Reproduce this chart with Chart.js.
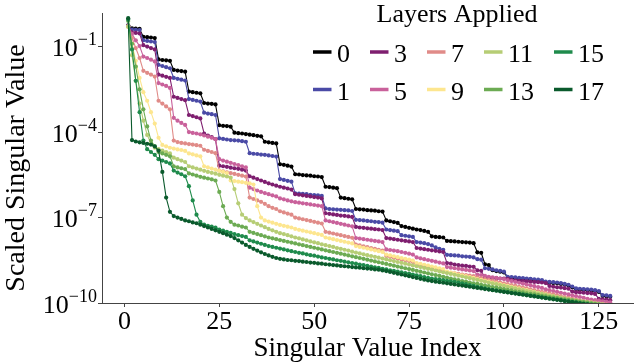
<!DOCTYPE html>
<html>
<head>
<meta charset="utf-8">
<script src="https://cdn.jsdelivr.net/npm/chart.js@4"></script>
<style>
  html, body { margin: 0; padding: 0; background: #fff; }
  #wrap { width: 637px; height: 362px; }
</style>
</head>
<body>
<div id="wrap"><canvas id="c" width="637" height="362"></canvas></div>
<script>
// Scaled singular values per layer count, stored as log10 exponents
// (value = 10^e), index 1..128.
const layers = [0, 1, 3, 5, 7, 9, 11, 13, 15, 17];
const layerColors = ['#000000', '#4a4aa6', '#7e1e6f', '#c9619b', '#e08b88',
                     '#fde68f', '#b6cd75', '#6cab53', '#1f8b4c', '#0a5a2c'];

const logSv0 = [
  -0.25, -0.36, -0.37, -0.38, -0.66, -0.67, -0.68, -0.70,
  -1.45, -1.47, -1.48, -1.50, -1.82, -1.84, -1.86, -1.88,
  -2.58, -2.60, -2.62, -2.64, -2.98, -3.00, -3.01, -3.03,
  -3.76, -3.78, -3.79, -3.81, -4.02, -4.04, -4.05, -4.07,
  -4.09, -4.11, -4.13, -4.15, -4.34, -4.36, -4.38, -4.40,
  -5.13, -5.15, -5.18, -5.21, -5.48, -5.49, -5.51, -5.52,
  -5.53, -5.55, -5.56, -5.58, -5.92, -5.93, -5.95, -5.97,
  -6.30, -6.32, -6.34, -6.36, -6.70, -6.71, -6.72, -6.74,
  -6.75, -6.76, -6.78, -6.79, -7.10, -7.13, -7.16, -7.19,
  -7.30, -7.33, -7.36, -7.39, -7.42, -7.44, -7.47, -7.50,
  -7.66, -7.68, -7.69, -7.70, -7.82, -7.83, -7.84, -7.85,
  -7.86, -7.87, -7.88, -7.90, -8.22, -8.24, -8.64, -8.67,
  -8.85, -8.88, -8.90, -8.93, -9.11, -9.12, -9.13, -9.15,
  -9.16, -9.17, -9.18, -9.20, -9.21, -9.23, -9.28, -9.29,
  -9.30, -9.31, -9.33, -9.36, -9.39, -9.45, -9.52, -9.53,
  -9.54, -9.55, -9.56, -9.58, -9.61, -9.75, -9.76, -9.78
];
const logSv1 = [
  -0.27, -0.40, -0.41, -0.42, -0.78, -0.80, -0.82, -0.84,
  -1.64, -1.68, -1.72, -1.76, -2.10, -2.13, -2.16, -2.19,
  -2.84, -2.87, -2.90, -2.93, -3.32, -3.35, -3.37, -3.40,
  -4.22, -4.24, -4.26, -4.28, -4.29, -4.30, -4.32, -4.34,
  -4.74, -4.76, -4.77, -4.79, -4.80, -4.82, -4.84, -4.86,
  -5.65, -5.68, -5.71, -5.74, -6.15, -6.16, -6.17, -6.18,
  -6.20, -6.21, -6.22, -6.24, -6.68, -6.70, -6.71, -6.72,
  -6.73, -6.74, -6.75, -6.77, -7.08, -7.09, -7.10, -7.12,
  -7.13, -7.15, -7.16, -7.18, -7.42, -7.44, -7.46, -7.48,
  -7.62, -7.64, -7.66, -7.68, -7.86, -7.88, -7.90, -7.93,
  -7.98, -8.05, -8.10, -8.13, -8.31, -8.32, -8.33, -8.34,
  -8.36, -8.37, -8.38, -8.40, -8.46, -8.48, -8.78, -8.80,
  -8.82, -8.85, -8.87, -8.90, -9.08, -9.09, -9.10, -9.12,
  -9.13, -9.14, -9.15, -9.17, -9.18, -9.20, -9.25, -9.26,
  -9.27, -9.28, -9.30, -9.33, -9.36, -9.42, -9.49, -9.50,
  -9.51, -9.52, -9.53, -9.55, -9.58, -9.72, -9.73, -9.75
];
const logSv3 = [
  -0.28, -0.50, -0.52, -0.54, -0.95, -1.00, -1.05, -1.10,
  -1.98, -2.02, -2.06, -2.10, -2.76, -2.80, -2.84, -2.88,
  -3.40, -3.44, -3.48, -3.52, -4.05, -4.12, -4.18, -4.25,
  -5.18, -5.20, -5.22, -5.25, -5.27, -5.29, -5.32, -5.35,
  -5.55, -5.60, -5.65, -5.70, -5.75, -5.80, -5.84, -5.88,
  -5.92, -5.95, -5.98, -6.02, -6.18, -6.20, -6.22, -6.24,
  -6.26, -6.28, -6.30, -6.33, -6.85, -6.87, -6.89, -6.91,
  -6.93, -6.94, -6.96, -6.98, -7.33, -7.35, -7.36, -7.38,
  -7.39, -7.41, -7.42, -7.44, -7.72, -7.74, -7.76, -7.78,
  -7.80, -7.82, -7.84, -7.86, -8.07, -8.09, -8.11, -8.13,
  -8.15, -8.17, -8.19, -8.21, -8.60, -8.62, -8.65, -8.67,
  -8.69, -8.70, -8.72, -8.73, -8.85, -8.87, -9.12, -9.12,
  -9.13, -9.13, -9.14, -9.14, -9.15, -9.20, -9.21, -9.22,
  -9.23, -9.24, -9.25, -9.26, -9.27, -9.28, -9.30, -9.40,
  -9.43, -9.45, -9.46, -9.48, -9.50, -9.60, -9.62, -9.63,
  -9.64, -9.65, -9.66, -9.68, -9.85, -9.87, -9.88, -9.90
];
const logSv5 = [
  -0.28, -0.55, -0.78, -0.98, -1.35, -1.40, -1.46, -1.52,
  -2.28, -2.33, -2.38, -2.45, -3.50, -3.60, -3.68, -3.75,
  -4.00, -4.03, -4.05, -4.08, -4.12, -4.16, -4.20, -4.25,
  -4.95, -5.00, -5.04, -5.08, -5.12, -5.16, -5.20, -5.24,
  -5.95, -6.00, -6.05, -6.10, -6.14, -6.18, -6.22, -6.26,
  -6.33, -6.36, -6.40, -6.43, -6.46, -6.48, -6.50, -6.52,
  -6.54, -6.56, -6.58, -6.60, -7.10, -7.13, -7.16, -7.19,
  -7.22, -7.25, -7.28, -7.31, -7.72, -7.74, -7.76, -7.78,
  -7.80, -7.82, -7.84, -7.86, -8.12, -8.14, -8.16, -8.18,
  -8.21, -8.24, -8.27, -8.30, -8.40, -8.43, -8.46, -8.49,
  -8.52, -8.55, -8.58, -8.61, -8.74, -8.76, -8.78, -8.80,
  -8.82, -8.84, -8.86, -8.88, -9.00, -9.02, -9.05, -9.08,
  -9.10, -9.12, -9.14, -9.16, -9.20, -9.23, -9.26, -9.29,
  -9.32, -9.35, -9.38, -9.41, -9.44, -9.47, -9.52, -9.55,
  -9.58, -9.61, -9.64, -9.67, -9.70, -9.73, -9.76, -9.79,
  -9.82, -9.85, -9.88, -9.90, -9.92, -9.94, -9.96, -9.98
];
const logSv7 = [
  -0.30, -0.70, -1.05, -1.40, -1.85, -1.92, -1.98, -2.05,
  -2.90, -3.00, -3.10, -3.20, -4.30, -4.35, -4.38, -4.40,
  -4.42, -4.44, -4.46, -4.48, -4.62, -4.66, -4.70, -4.74,
  -5.35, -5.38, -5.41, -5.44, -5.47, -5.50, -5.53, -5.56,
  -6.30, -6.35, -6.40, -6.45, -6.52, -6.60, -6.66, -6.70,
  -6.78, -6.82, -6.86, -6.90, -7.00, -7.03, -7.06, -7.09,
  -7.12, -7.15, -7.18, -7.21, -7.50, -7.53, -7.56, -7.59,
  -7.62, -7.65, -7.68, -7.71, -7.95, -7.98, -8.01, -8.04,
  -8.07, -8.10, -8.13, -8.16, -8.35, -8.38, -8.41, -8.44,
  -8.47, -8.50, -8.53, -8.56, -8.66, -8.69, -8.72, -8.75,
  -8.78, -8.81, -8.84, -8.87, -8.92, -8.94, -8.96, -8.98,
  -9.00, -9.02, -9.04, -9.06, -9.10, -9.13, -9.16, -9.19,
  -9.22, -9.25, -9.28, -9.31, -9.34, -9.37, -9.40, -9.43,
  -9.46, -9.49, -9.52, -9.55, -9.58, -9.61, -9.64, -9.67,
  -9.70, -9.73, -9.76, -9.79, -9.82, -9.85, -9.88, -9.91,
  -9.93, -9.95, -9.97, -9.99, -10.01, -10.03, -10.05, -10.07
];
const logSv9 = [
  -0.30, -0.90, -1.50, -2.10, -2.60, -2.90, -3.30, -3.70,
  -4.20, -4.45, -4.50, -4.55, -4.58, -4.61, -4.63, -4.66,
  -4.75, -4.78, -4.82, -4.85, -5.20, -5.24, -5.28, -5.32,
  -5.36, -5.40, -5.44, -5.70, -5.72, -5.74, -5.76, -5.78,
  -5.80, -5.84, -6.60, -7.00, -7.10, -7.14, -7.18, -7.22,
  -7.26, -7.29, -7.32, -7.35, -7.40, -7.43, -7.46, -7.49,
  -7.52, -7.55, -7.58, -7.61, -7.70, -7.73, -7.76, -7.79,
  -7.82, -7.85, -7.88, -7.91, -8.00, -8.03, -8.06, -8.09,
  -8.12, -8.15, -8.18, -8.21, -8.30, -8.33, -8.36, -8.39,
  -8.42, -8.45, -8.48, -8.51, -8.60, -8.63, -8.66, -8.69,
  -8.72, -8.75, -8.78, -8.81, -8.90, -8.93, -8.96, -9.00,
  -9.03, -9.06, -9.09, -9.12, -9.16, -9.19, -9.22, -9.25,
  -9.28, -9.31, -9.34, -9.37, -9.40, -9.43, -9.46, -9.49,
  -9.52, -9.55, -9.58, -9.61, -9.64, -9.67, -9.70, -9.73,
  -9.76, -9.79, -9.82, -9.85, -9.88, -9.91, -9.94, -9.97,
  -9.99, -10.01, -10.03, -10.05, -10.07, -10.09, -10.11, -10.13
];
const logSv11 = [
  -0.30, -1.30, -2.20, -3.00, -3.60, -4.10, -4.40, -4.55,
  -4.60, -4.65, -4.70, -4.75, -4.90, -4.95, -5.00, -5.05,
  -5.20, -5.24, -5.28, -5.32, -5.36, -5.40, -5.43, -5.46,
  -5.50, -5.53, -5.56, -5.60, -6.00, -6.50, -6.90, -7.02,
  -7.10, -7.16, -7.22, -7.28, -7.34, -7.40, -7.45, -7.50,
  -7.55, -7.58, -7.62, -7.66, -7.70, -7.73, -7.77, -7.80,
  -7.84, -7.87, -7.90, -7.94, -7.97, -8.00, -8.03, -8.07,
  -8.10, -8.13, -8.16, -8.20, -8.23, -8.26, -8.29, -8.32,
  -8.35, -8.38, -8.41, -8.44, -8.47, -8.50, -8.53, -8.56,
  -8.59, -8.62, -8.65, -8.68, -8.71, -8.74, -8.77, -8.80,
  -8.83, -8.86, -8.89, -8.92, -8.95, -8.98, -9.01, -9.04,
  -9.07, -9.10, -9.13, -9.16, -9.19, -9.22, -9.25, -9.28,
  -9.31, -9.34, -9.37, -9.40, -9.43, -9.46, -9.49, -9.52,
  -9.55, -9.58, -9.60, -9.63, -9.66, -9.68, -9.71, -9.74,
  -9.76, -9.79, -9.81, -9.84, -9.86, -9.89, -9.91, -9.93,
  -9.95, -9.97, -9.99, -10.01, -10.03, -10.05, -10.07, -10.09
];
const logSv13 = [
  -0.10, -0.90, -1.70, -2.50, -3.20, -3.80, -4.30, -4.50,
  -4.70, -4.75, -4.80, -4.85, -5.20, -5.24, -5.27, -5.30,
  -5.45, -5.49, -5.53, -5.57, -5.60, -5.63, -5.66, -5.70,
  -6.10, -6.60, -7.00, -7.15, -7.25, -7.28, -7.32, -7.35,
  -7.50, -7.54, -7.58, -7.62, -7.66, -7.70, -7.73, -7.76,
  -7.79, -7.82, -7.85, -7.88, -7.91, -7.94, -7.97, -8.00,
  -8.03, -8.06, -8.09, -8.12, -8.15, -8.18, -8.21, -8.24,
  -8.27, -8.30, -8.33, -8.36, -8.39, -8.42, -8.45, -8.48,
  -8.51, -8.54, -8.57, -8.60, -8.63, -8.66, -8.69, -8.72,
  -8.75, -8.78, -8.81, -8.84, -8.87, -8.90, -8.93, -8.96,
  -8.99, -9.02, -9.05, -9.08, -9.11, -9.14, -9.17, -9.20,
  -9.23, -9.25, -9.28, -9.31, -9.33, -9.36, -9.39, -9.41,
  -9.44, -9.46, -9.49, -9.51, -9.54, -9.56, -9.59, -9.61,
  -9.63, -9.66, -9.68, -9.70, -9.72, -9.75, -9.77, -9.79,
  -9.81, -9.83, -9.85, -9.87, -9.89, -9.91, -9.93, -9.95,
  -9.97, -9.99, -10.01, -10.03, -10.05, -10.07, -10.09, -10.11
];
const logSv15 = [
  -0.05, -1.10, -2.20, -3.30, -4.30, -4.60, -4.70, -4.80,
  -4.95, -5.00, -5.05, -5.10, -5.35, -5.42, -5.48, -5.55,
  -5.90, -6.40, -6.90, -7.15, -7.25, -7.29, -7.32, -7.35,
  -7.42, -7.46, -7.50, -7.54, -7.58, -7.62, -7.65, -7.68,
  -7.80, -7.84, -7.88, -7.92, -7.96, -8.00, -8.03, -8.06,
  -8.09, -8.12, -8.15, -8.18, -8.21, -8.24, -8.26, -8.29,
  -8.32, -8.34, -8.37, -8.40, -8.42, -8.45, -8.47, -8.50,
  -8.52, -8.55, -8.57, -8.60, -8.62, -8.65, -8.67, -8.70,
  -8.72, -8.75, -8.77, -8.80, -8.82, -8.85, -8.87, -8.90,
  -8.92, -8.95, -8.97, -9.00, -9.03, -9.06, -9.09, -9.12,
  -9.14, -9.16, -9.18, -9.20, -9.22, -9.24, -9.26, -9.28,
  -9.31, -9.34, -9.37, -9.40, -9.43, -9.46, -9.49, -9.52,
  -9.54, -9.56, -9.58, -9.60, -9.62, -9.64, -9.66, -9.68,
  -9.70, -9.72, -9.74, -9.76, -9.78, -9.80, -9.82, -9.84,
  -9.86, -9.88, -9.90, -9.92, -9.94, -9.96, -9.98, -10.00,
  -10.02, -10.04, -10.06, -10.08, -10.10, -10.12, -10.14, -10.16
];
const logSv17 = [
  0.00, -4.28, -4.33, -4.36, -4.38, -4.41, -4.44, -4.50,
  -4.65, -5.40, -6.30, -6.80, -6.95, -7.00, -7.05, -7.10,
  -7.13, -7.17, -7.20, -7.25, -7.30, -7.35, -7.40, -7.45,
  -7.50, -7.55, -7.60, -7.65, -7.72, -7.80, -7.88, -7.96,
  -8.03, -8.10, -8.16, -8.22, -8.28, -8.33, -8.38, -8.42,
  -8.45, -8.47, -8.49, -8.50, -8.52, -8.53, -8.55, -8.56,
  -8.58, -8.59, -8.61, -8.62, -8.64, -8.65, -8.67, -8.68,
  -8.70, -8.71, -8.72, -8.74, -8.75, -8.76, -8.78, -8.79,
  -8.80, -8.82, -8.83, -8.86, -8.88, -8.91, -8.94, -8.97,
  -9.00, -9.03, -9.06, -9.09, -9.12, -9.15, -9.18, -9.21,
  -9.23, -9.25, -9.27, -9.29, -9.31, -9.33, -9.35, -9.37,
  -9.39, -9.41, -9.43, -9.45, -9.47, -9.49, -9.51, -9.53,
  -9.55, -9.57, -9.59, -9.61, -9.63, -9.65, -9.67, -9.69,
  -9.71, -9.73, -9.75, -9.77, -9.79, -9.81, -9.83, -9.85,
  -9.87, -9.89, -9.91, -9.93, -9.95, -9.97, -9.99, -10.01,
  -10.03, -10.05, -10.07, -10.09, -10.11, -10.13, -10.15, -10.17
];
const seriesLog = [logSv0, logSv1, logSv3, logSv5, logSv7, logSv9, logSv11, logSv13, logSv15, logSv17];

const xTickValues = [0, 25, 50, 75, 100, 125];
const yTickValues = [1e-10, 1e-7, 1e-4, 1e-1];
const yTickExponents = ['\u221210', '\u22127', '\u22124', '\u22121'];
const yTitle = 'Scaled Singular Value';

// legend layout: matplotlib style, 5 columns x 2 rows filled column by column
const legendRows = [[0, 3, 7, 11, 15], [1, 5, 9, 13, 17]];

const SERIF = '"Liberation Serif", "DejaVu Serif", serif';
Chart.defaults.font.family = SERIF;
Chart.defaults.color = '#000';

// y tick labels drawn as 10 with a raised exponent, plus the y title
const powerLabels = {
  id: 'powerLabels',
  afterDraw(chart) {
    const ctx = chart.ctx;
    const y = chart.scales.y;
    ctx.save();
    ctx.fillStyle = '#000';
    ctx.textBaseline = 'alphabetic';
    ctx.textAlign = 'right';
    yTickValues.forEach((v, i) => {
      const py = y.getPixelForValue(v);
      const right = y.right - 5;
      ctx.font = '18px ' + SERIF;
      const ew = ctx.measureText(yTickExponents[i]).width;
      ctx.fillText(yTickExponents[i], right, py - 1.5);
      ctx.font = '26px ' + SERIF;
      ctx.fillText('10', right - ew, py + 9.5);
    });
    // axis title, rotated, centred a little below the plot middle as in the source
    ctx.translate(17, 168);
    ctx.rotate(-Math.PI / 2);
    ctx.textAlign = 'center';
    ctx.textBaseline = 'middle';
    ctx.font = '28px ' + SERIF;
    ctx.fillText(yTitle, 0, 0);
    ctx.restore();
  }
};

const legendPlugin = {
  id: 'layersLegend',
  afterDraw(chart) {
    const ctx = chart.ctx;
    ctx.save();
    ctx.font = '26px ' + SERIF;
    ctx.fillStyle = '#000';
    ctx.textBaseline = 'alphabetic';
    ctx.textAlign = 'center';
    ctx.fillText('Layers Applied', 457, 21.5);
    ctx.textAlign = 'left';
    const rowBase = [61.5, 99.5];
    const rowMid = [52, 89.5];
    let x = 313;
    for (let c = 0; c < legendRows[0].length; c++) {
      let w = 0;
      for (let r = 0; r < 2; r++) {
        w = Math.max(w, ctx.measureText(String(legendRows[r][c])).width);
      }
      for (let r = 0; r < 2; r++) {
        const layer = legendRows[r][c];
        const col = layerColors[layers.indexOf(layer)];
        ctx.strokeStyle = col;
        ctx.lineWidth = 3.5;
        ctx.lineCap = 'butt';
        ctx.beginPath();
        ctx.moveTo(x, rowMid[r]);
        ctx.lineTo(x + 18.5, rowMid[r]);
        ctx.stroke();
        ctx.fillStyle = '#000';
        ctx.fillText(String(layer), x + 24, rowBase[r]);
      }
      x += 24 + w + 20;
    }
    ctx.restore();
  }
};

const datasets = layers.map((layer, k) => ({
  label: String(layer),
  data: seriesLog[k].map((e, i) => ({ x: i + 1, y: Math.pow(10, e) })),
  borderColor: layerColors[k],
  backgroundColor: layerColors[k],
  pointBackgroundColor: layerColors[k],
  pointBorderWidth: 0,
  pointRadius: 2.1,
  borderWidth: 1.1,
  order: layers.length - k  // later layers drawn on top
}));

new Chart(document.getElementById('c'), {
  type: 'line',
  data: { datasets },
  plugins: [legendPlugin, powerLabels],
  options: {
    responsive: false,
    animation: false,
    layout: { padding: { left: 0, right: 0, top: 13, bottom: 0 } },
    plugins: { legend: { display: false }, tooltip: { enabled: false } },
    scales: {
      x: {
        type: 'linear',
        min: -5.9,
        max: 134,
        afterBuildTicks: (scale) => { scale.ticks = xTickValues.map(v => ({ value: v })); },
        afterFit: (scale) => { scale.height = 59; },
        ticks: { font: { size: 26 }, padding: 0, maxRotation: 0, color: '#000' },
        grid: { drawOnChartArea: false, tickLength: 4, color: '#444' },
        border: { color: '#444', width: 1 },
        title: { display: true, text: 'Singular Value Index', font: { size: 27 }, padding: { top: 0, bottom: -3 }, color: '#000' }
      },
      y: {
        type: 'logarithmic',
        min: 1e-10,
        max: Math.pow(10, 0.18),
        afterBuildTicks: (scale) => { scale.ticks = yTickValues.map(v => ({ value: v })); },
        afterFit: (scale) => { scale.width = 102; },
        ticks: { display: false },
        grid: { drawOnChartArea: false, tickLength: 4, color: '#444' },
        border: { color: '#444', width: 1 },
        title: { display: false }
      }
    }
  }
});
</script>
</body>
</html>
